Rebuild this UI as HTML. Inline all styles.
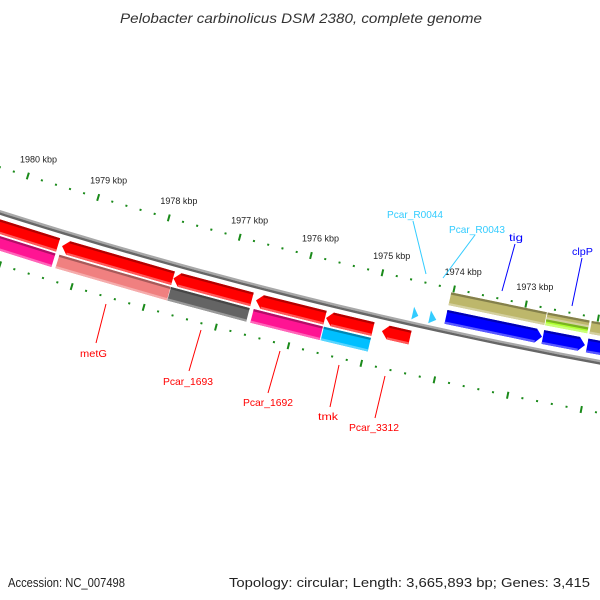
<!DOCTYPE html>
<html>
<head>
<meta charset="utf-8">
<style>
html,body{margin:0;padding:0;background:#fff;}
svg{display:block;font-family:"Liberation Sans","DejaVu Sans",sans-serif;}
</style>
</head>
<body>
<svg id="map" width="600" height="600" viewBox="0 0 600 600" xmlns="http://www.w3.org/2000/svg">
  <rect x="0" y="0" width="600" height="600" fill="#ffffff"/>
  <text x="120" y="23" font-size="14" font-style="italic" fill="#333" textLength="362" lengthAdjust="spacingAndGlyphs">Pelobacter carbinolicus DSM 2380, complete genome</text>
  <g id="ticks"></g>
  <g id="backbone"></g>
  <g id="features"></g>
  <g id="labels"></g>
  <text x="8" y="587" font-size="12.5" fill="#222" textLength="117" lengthAdjust="spacingAndGlyphs">Accession: NC_007498</text>
  <text x="229" y="587" font-size="12.5" fill="#222" textLength="361" lengthAdjust="spacingAndGlyphs">Topology: circular; Length: 3,665,893 bp; Genes: 3,415</text>
</svg>
<script>
// ---- data (bp) ----
const geneNames  = ["gene_left","metG","Pcar_1693","Pcar_1692","tmk","Pcar_3312","tig","clpP","gene_right"];
const geneStart  = [1979335,1977726,1976627,1975614,1974952,1974441,1972702,1972110,1970800];
const geneEnd    = [1980800,1979279,1977720,1976571,1975600,1974828,1974028,1972690,1972080];
const geneStrand = [-1,-1,-1,-1,-1,-1,1,1,1];
const geneCogColor = ["#ff1493","#f08080","#646464","#ff1493","#00bfff","","#bdb76b","#bdb76b","#bdb76b"];
const geneCogColor2 = ["","","","","","","","#adff2f",""];
const trnaNames = ["Pcar_R0044","Pcar_R0043"];
const trnaStart = [1974396,1974147];
const trnaEnd   = [1974478,1974244];
const tickMinKbp = 1968;
const tickMaxKbp = 1983;
const tickStepKbp = 0.2;

// ---- geometry (circular map zoomed) ----
const CX = 1504.8, CY = -4537;
const R_BACK = 4982, R_TICK_IN = 4939, R_TICK_OUT = 5032, R_TLAB = 4920;
const DEG_PER_KBP = 0.853, PHI0 = -17.40, KBP0 = 1980;
function ang(bp){ return (PHI0 + (KBP0 - bp/1000) * DEG_PER_KBP) * Math.PI/180; }
function pt(bp, r){ const a = ang(bp); return [CX + r*Math.sin(a), CY + r*Math.cos(a)]; }
function arcPts(b1, b2, r, n){ const p=[]; for(let i=0;i<=n;i++){ p.push(pt(b1+(b2-b1)*i/n, r)); } return p; }
const NS = "http://www.w3.org/2000/svg";
function mk(tag, attrs, parent){ const e=document.createElementNS(NS,tag); for(const k in attrs) e.setAttribute(k, attrs[k]); parent.appendChild(e); return e; }
function polyStr(p){ return p.map(q=>q[0].toFixed(2)+","+q[1].toFixed(2)).join(" "); }

// ---- ticks ----
const gT = document.getElementById("ticks");
const nT = Math.round((tickMaxKbp - tickMinKbp)/tickStepKbp);
for(let i=0;i<=nT;i++){
  const kbp = tickMinKbp + i*tickStepKbp;
  const major = Math.abs(kbp - Math.round(kbp)) < 1e-6;
  const bp = kbp*1000;
  [R_TICK_IN, R_TICK_OUT].forEach(function(r){
    const half = major ? 3.5 : 1;
    const a = pt(bp, r-half), b = pt(bp, r+half);
    const t = mk("line",{x1:a[0],y1:a[1],x2:b[0],y2:b[1],stroke:"#1a8a1a","stroke-width":2},gT);
    
    
  });
  if(major){
    const p = pt(bp, R_TLAB);
    const lx = p[0] + 5;
    if(lx > 20 && lx < 560){
      const tl = mk("text",{x:lx.toFixed(1),y:(p[1]+4.5).toFixed(1),"font-size":"9","text-anchor":"middle",fill:"#222"},gT);
      tl.textContent = Math.round(kbp) + " kbp";
      
      
    }
  }
}

// ---- backbone ----
const gB = document.getElementById("backbone");
const bA = mk("polyline",{points:polyStr(arcPts(1981500,1970500,R_BACK-1,40)),fill:"none",stroke:"#a8a8a8","stroke-width":2.4},gB);


const bB = mk("polyline",{points:polyStr(arcPts(1981500,1970500,R_BACK+1.3,40)),fill:"none",stroke:"#666","stroke-width":2.4},gB);



// ---- features ----
const gF = document.getElementById("features");
function shade(hex, f){
  const n=parseInt(hex.slice(1),16); let r=n>>16,g=(n>>8)&255,b=n&255;
  if(f<0){ r=Math.round(r*(1+f)); g=Math.round(g*(1+f)); b=Math.round(b*(1+f)); }
  else { r=Math.round(r+(255-r)*f); g=Math.round(g+(255-g)*f); b=Math.round(b+(255-b)*f); }
  return "rgb("+r+","+g+","+b+")";
}
// tipSide: 0 none, 1 tip at small-bp end (right), -1 tip at large-bp end (left)
function band(s, e, r1, r2, color, tipSide, name){
  const g = mk("g",{},gF);
  
  
  const head = 85;
  const rm = (r1+r2)/2;
  let outline, bs = s, be = e;
  if(tipSide === 1){
    bs = s + head;
    outline = [pt(e,r1), pt(bs,r1), pt(s,rm), pt(bs,r2), pt(e,r2)];
  } else if(tipSide === -1){
    be = e - head;
    outline = [pt(s,r1), pt(be,r1), pt(e,rm), pt(be,r2), pt(s,r2)];
  } else {
    outline = [pt(s,r1), pt(e,r1), pt(e,r2), pt(s,r2)];
  }
  const main = mk("polygon",{points:polyStr(outline),fill:color},g);
  
  
  const top = mk("polygon",{points:polyStr([pt(bs,r1),pt(be,r1),pt(be,r1+2.2),pt(bs,r1+2.2)]),fill:shade(color,-0.3)},g);
  
  
  const bot = mk("polygon",{points:polyStr([pt(bs,r2-2.2),pt(be,r2-2.2),pt(be,r2),pt(bs,r2)]),fill:shade(color,0.35)},g);
  
  
}
for(let i=0;i<geneNames.length;i++){
  const s = geneStart[i], e = geneEnd[i];
  if(geneStrand[i] < 0){
    band(s, e, 4989, 5003, "#ff0000", -1, "cds-" + geneNames[i]);
    if(geneCogColor[i]) band(s, e, 5005, 5019, geneCogColor[i], 0, "cog-" + geneNames[i]);
  } else {
    band(s, e, 4961, 4975, "#0000ff", 1, "cds-" + geneNames[i]);
    if(geneCogColor2[i]){
      band(s, e, 4943, 4950, geneCogColor[i], 0, "cog-" + geneNames[i]);
      band(s, e, 4950, 4956, geneCogColor2[i], 0, "cog2-" + geneNames[i]);
    } else if(geneCogColor[i]) band(s, e, 4943, 4956, geneCogColor[i], 0, "cog-" + geneNames[i]);
  }
}
for(let i=0;i<trnaNames.length;i++){
  const a = pt(trnaEnd[i], 4965), b = pt(trnaEnd[i], 4978), c = pt(trnaStart[i], 4973);
  const tri = mk("polygon",{points:polyStr([a,c,b]),fill:"#33ccff"},gF);
  
  
}

// ---- labels ----
const gL = document.getElementById("labels");
const labelText  = ["metG","Pcar_1693","Pcar_1692","tmk","Pcar_3312","tig","clpP","Pcar_R0044","Pcar_R0043"];
const labelColor = ["#ff0000","#ff0000","#ff0000","#ff0000","#ff0000","#0000ff","#0000ff","#33ccff","#33ccff"];
const labelX = [80,163,243,318,349,509,572,387,449];
const labelY = [357,385,406,420,431,241,255,218,233];
const labelW = [27,50,50,20,50,14,21,56,56];
const leader = [[106,304,96,343],[201,330,189,371],[280,351,268,393],[339,365,330,407],[385,376,375,418],[515,244,502,291],[582,258,572,306],[413,221,426,274],[475,235,443,278]];
for(let i=0;i<labelText.length;i++){
  const l = mk("line",{x1:leader[i][0],y1:leader[i][1],x2:leader[i][2],y2:leader[i][3],stroke:labelColor[i],"stroke-width":1},gL);
  
  
  const t = mk("text",{x:labelX[i],y:labelY[i],"font-size":"10.5",fill:labelColor[i],textLength:labelW[i],lengthAdjust:"spacingAndGlyphs"},gL);
  t.textContent = labelText[i];
  
  
}
</script>
</body>
</html>
